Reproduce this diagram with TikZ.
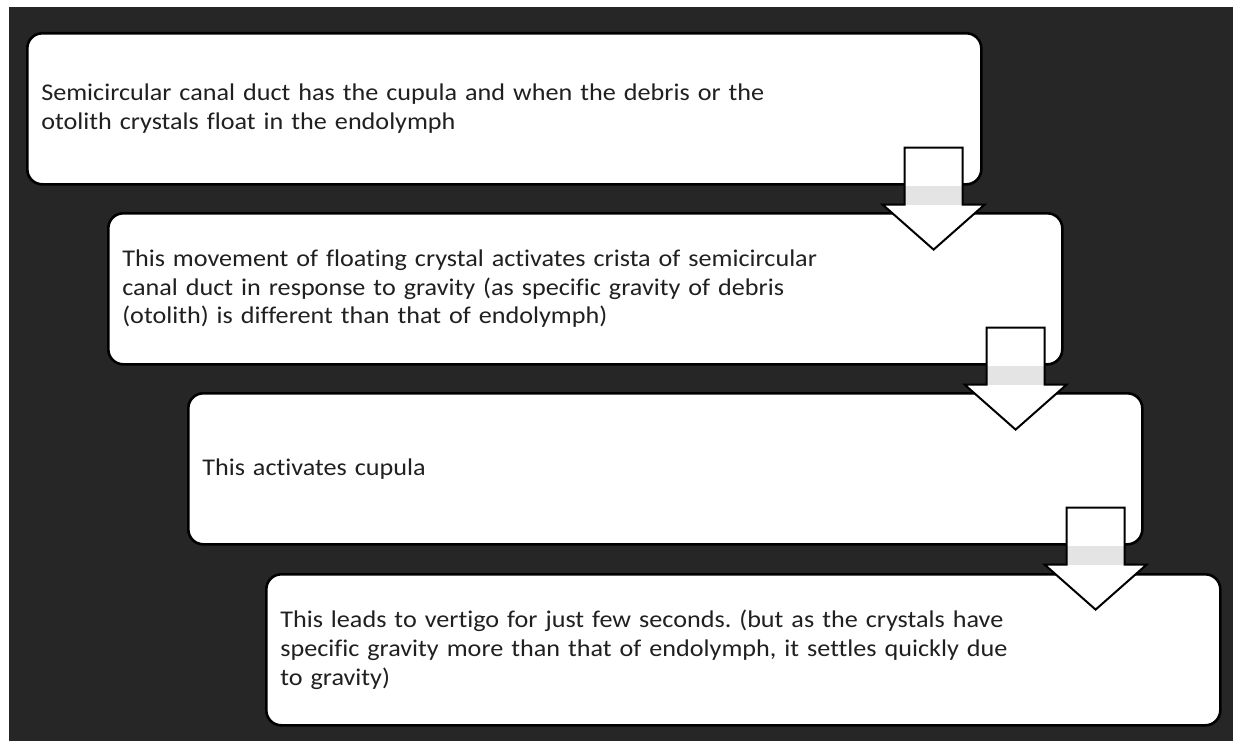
\documentclass[tikz,border=0pt]{standalone}
\usepackage{fontspec}
\setmainfont[FakeStretch=1.09,Ligatures=NoCommon]{Carlito}
\usetikzlibrary{calc}
\definecolor{bgdark}{HTML}{262626}
\definecolor{txt}{HTML}{202020}
\definecolor{arrgray}{HTML}{E4E4E4}
\tikzset{
  stepbox/.style={draw=black, line width=2.6pt, fill=white, rounded corners=15pt,
    anchor=north west, minimum width=954pt, minimum height=151pt,
    text width=926pt, inner xsep=14pt, inner ysep=0pt, align=left,
    text=txt, font=\fontsize{24}{28.7}\selectfont\frenchspacing},
  arrline/.style={draw=black, line width=2pt, line join=miter},
  blockarrow/.pic={
    \fill[white] (-29,-38) -- (29,-38) -- (29,19) -- (51,19) -- (0,64) -- (-51,19) -- (-29,19) -- cycle;
    \fill[arrgray] (-29,0) rectangle (29,19);
    \draw[arrline] (-29,-38) -- (29,-38) -- (29,19) -- (51,19) -- (0,64) -- (-51,19) -- (-29,19) -- cycle;
  }
}
\begin{document}
\begin{tikzpicture}[x=1pt,y=-1pt]
\useasboundingbox (0,0) rectangle (1233,741);
\fill[white] (0,0) rectangle (1233,741);
\fill[bgdark] (9,7) rectangle (1233,741);
\node[stepbox] (b1) at (26,32) {Semicircular canal duct has the cupula and when the debris or the\\otolith crystals float in the endolymph};
\node[stepbox] (b2) at (107,212) {This movement of floating crystal activates crista of semicircular\\canal duct in response to gravity (as specific gravity of debris\\(otolith) is different than that of endolymph)};
\node[stepbox] (b3) at (187,392) {This activates cupula};
\node[stepbox] (b4) at (265,573) {This leads to vertigo for just few seconds. (but as the crystals have\\specific gravity more than that of endolymph, it settles quickly due\\to gravity)};
\coordinate (a1) at ($(b1.south east)+(-49,0)$);
\coordinate (a2) at ($(b2.south east)+(-48,0)$);
\coordinate (a3) at ($(b3.south east)+(-48,0)$);
\pic at (a1) {blockarrow};
\pic at (a2) {blockarrow};
\pic at (a3) {blockarrow};
\end{tikzpicture}
\end{document}
